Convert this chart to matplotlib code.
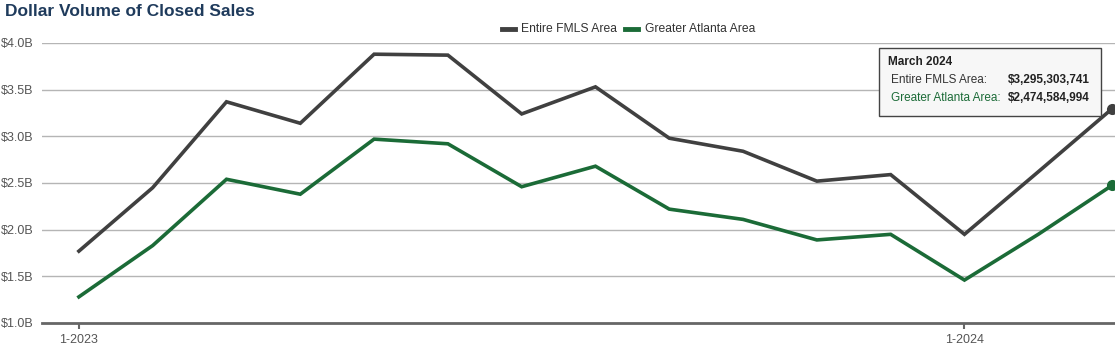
import matplotlib
matplotlib.use("Agg")
import matplotlib.pyplot as plt
from matplotlib.patches import Rectangle

plt.rcParams['font.family'] = ['Liberation Sans', 'DejaVu Sans']

months = ["1-2023", "2-2023", "3-2023", "4-2023", "5-2023", "6-2023", "7-2023", "8-2023",
          "9-2023", "10-2023", "11-2023", "12-2023", "1-2024", "2-2024", "3-2024"]
fmls = [1.77, 2.45, 3.37, 3.14, 3.88, 3.87, 3.24, 3.53, 2.98, 2.84, 2.52, 2.59, 1.95, 2.62, 3.295303741]
atlanta = [1.28, 1.83, 2.54, 2.38, 2.97, 2.92, 2.46, 2.68, 2.22, 2.11, 1.89, 1.95, 1.46, 1.95, 2.474584994]
yticks = [1.0, 1.5, 2.0, 2.5, 3.0, 3.5, 4.0]
ytick_labels = ["$1.0B", "$1.5B", "$2.0B", "$2.5B", "$3.0B", "$3.5B", "$4.0B"]
xtick_idx = [0, 12]

W, H = 1115, 346
fig = plt.figure(figsize=(W / 100, H / 100), dpi=100)
ax = fig.add_axes([42 / W, (H - 323) / H, (1115 - 42) / W, (323 - 43) / H])

c_fmls = "#404040"
c_atl = "#1b6b37"
x = list(range(len(months)))
ax.plot(x, fmls, color=c_fmls, lw=2.6, solid_joinstyle='miter', zorder=3, clip_on=False)
ax.plot(x, atlanta, color=c_atl, lw=2.6, solid_joinstyle='miter', zorder=3, clip_on=False)
ax.plot([x[-1]], [fmls[-1]], 'o', color=c_fmls, ms=7, zorder=4, clip_on=False)
ax.plot([x[-1]], [atlanta[-1]], 'o', color=c_atl, ms=7, zorder=4, clip_on=False)

ax.set_xlim(-0.5, 14.04)
ax.set_ylim(1.0, 4.0)
ax.set_yticks(yticks)
ax.set_yticklabels(ytick_labels)
ax.set_xticks(xtick_idx)
ax.set_xticklabels([months[i] for i in xtick_idx])
for yv in yticks[1:]:
    ax.axhline(yv, color="#b5b5b5", lw=1, zorder=1)
for s in ["top", "right", "left"]:
    ax.spines[s].set_visible(False)
ax.spines["bottom"].set_color("#666666")
ax.spines["bottom"].set_linewidth(2)
ax.tick_params(axis='y', length=0, pad=6, labelsize=9, labelcolor="#555555")
ax.tick_params(axis='x', length=4, width=1.5, color="#666666", pad=4, labelsize=9, labelcolor="#555555")

fig.text(5 / W, 1 - 11 / H, "Dollar Volume of Closed Sales", fontsize=12.5, fontweight='bold',
         color="#1f3b5c", va='center', ha='left')

# legend
ly = 1 - 29 / H
fig.add_artist(plt.Line2D([502 / W, 515 / W], [ly, ly], color=c_fmls, lw=3.5))
fig.text(521 / W, ly, "Entire FMLS Area", fontsize=8.7, color="#333333", va='center', ha='left')
fig.add_artist(plt.Line2D([625 / W, 638 / W], [ly, ly], color=c_atl, lw=3.5))
fig.text(645 / W, ly, "Greater Atlanta Area", fontsize=8.7, color="#333333", va='center', ha='left')

# tooltip
bx0, by0, bx1, by1 = 879, 48, 1101, 116
fig.add_artist(Rectangle((bx0 / W, 1 - by1 / H), (bx1 - bx0) / W, (by1 - by0) / H,
                         transform=fig.transFigure, facecolor="#f7f7f7", edgecolor="#444444",
                         lw=1, zorder=10))
fig.text(888 / W, 1 - 62 / H, "March 2024", fontsize=8.5, fontweight='bold', color="#222222",
         va='center', ha='left', zorder=11)
fig.text(891 / W, 1 - 80 / H, "Entire FMLS Area:", fontsize=8.5, color="#333333",
         va='center', ha='left', zorder=11)
fig.text(1090 / W, 1 - 80 / H, "$3,295,303,741", fontsize=8.5, fontweight='bold', color="#222222",
         va='center', ha='right', zorder=11)
fig.text(891 / W, 1 - 98 / H, "Greater Atlanta Area:", fontsize=8.5, color=c_atl,
         va='center', ha='left', zorder=11)
fig.text(1090 / W, 1 - 98 / H, "$2,474,584,994", fontsize=8.5, fontweight='bold', color="#222222",
         va='center', ha='right', zorder=11)

fig.savefig("out.png", dpi=100)
